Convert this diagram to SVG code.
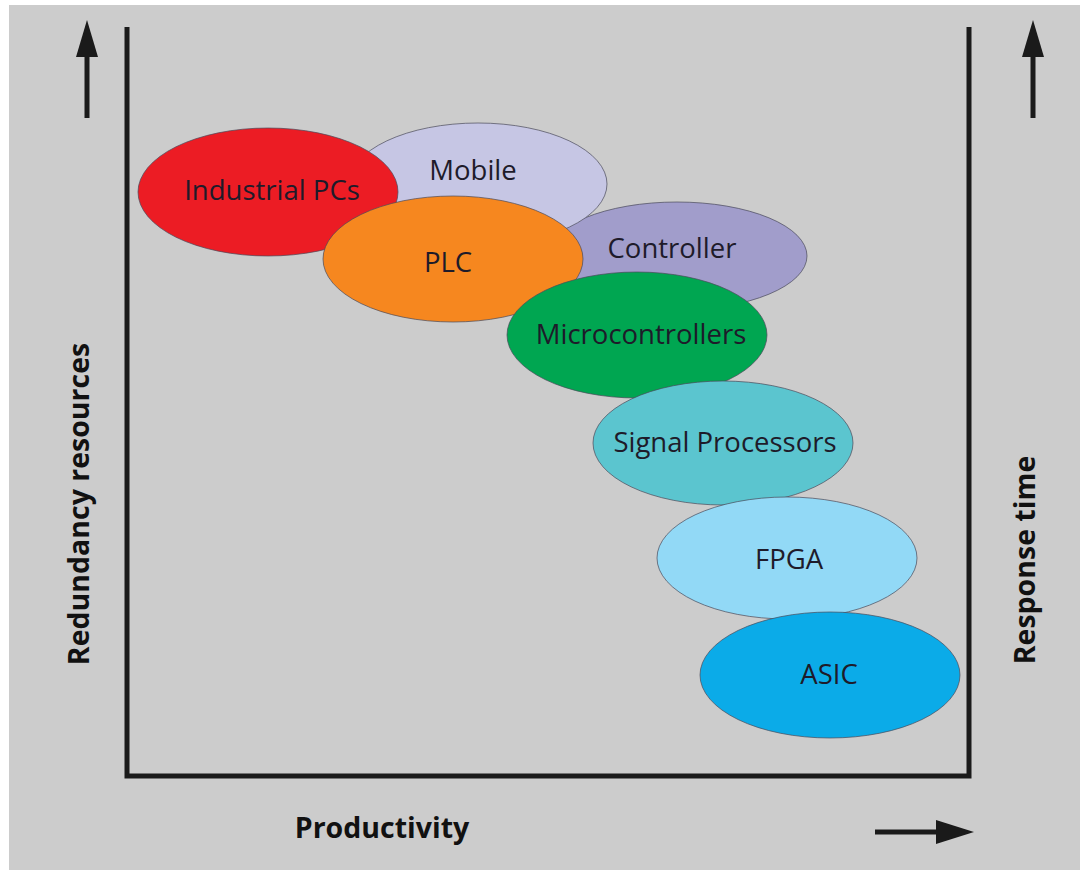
<svg xmlns="http://www.w3.org/2000/svg" width="1080" height="870" viewBox="0 0 1080 870">
<style>
.bg{fill:#cccccc}
.axis{fill:none;stroke:#1a1a1a;stroke-width:5;stroke-linejoin:miter}
.shaft{stroke:#1a1a1a;stroke-width:5}
.head{fill:#1a1a1a}
.node ellipse{stroke:#4a4a5a;stroke-opacity:0.7;stroke-width:1}
.lbl{font-family:"Open Sans","Liberation Sans",sans-serif;font-size:27.5px;fill:#1e1b2a;text-anchor:middle}
.ax{font-family:"Open Sans","Liberation Sans",sans-serif;font-size:28.5px;font-weight:bold;fill:#111111;text-anchor:middle}
</style>
<rect x="0" y="0" width="1080" height="870" fill="#ffffff"/>
<rect class="bg" x="9" y="5" width="1071" height="865"/>
<g id="connectors">
<path class="axis" d="M127,27 V776 H969 V27"/>
<line class="shaft" x1="87" y1="118" x2="87" y2="50"/>
<polygon class="head" points="87,20 76,57 98,57"/>
<line class="shaft" x1="1033" y1="118" x2="1033" y2="50"/>
<polygon class="head" points="1033,20 1022,57 1044,57"/>
<line class="shaft" x1="875" y1="832" x2="945" y2="832"/>
<polygon class="head" points="974,832 936,820 936,844"/>
</g>
<g id="controller" class="node"><ellipse cx="677" cy="256" rx="130" ry="54" fill="#a19dcb"/><text class="lbl" x="672" y="258">Controller</text></g>
<g id="mobile" class="node"><ellipse cx="478" cy="184" rx="129" ry="61" fill="#c6c6e4"/><text class="lbl" x="473" y="180">Mobile</text></g>
<g id="industrial-pcs" class="node"><ellipse cx="268" cy="192" rx="130" ry="64" fill="#ec1c24"/><text class="lbl" x="272" y="200">Industrial PCs</text></g>
<g id="plc" class="node"><ellipse cx="453" cy="259" rx="130" ry="63" fill="#f6871f"/><text class="lbl" x="448" y="272">PLC</text></g>
<g id="microcontrollers" class="node"><ellipse cx="637" cy="335" rx="130" ry="63" fill="#00a651"/><text class="lbl" x="641" y="344">Microcontrollers</text></g>
<g id="signal-processors" class="node"><ellipse cx="723" cy="443" rx="130" ry="62" fill="#5bc5cf"/><text class="lbl" x="725" y="452">Signal Processors</text></g>
<g id="fpga" class="node"><ellipse cx="787" cy="558" rx="130" ry="61" fill="#92d9f6"/><text class="lbl" x="789" y="569">FPGA</text></g>
<g id="asic" class="node"><ellipse cx="830" cy="675" rx="130" ry="63" fill="#0babe8"/><text class="lbl" x="829" y="684">ASIC</text></g>
<text class="ax" transform="translate(89,504) rotate(-90)">Redundancy resources</text>
<text class="ax" transform="translate(1035,560) rotate(-90)">Response time</text>
<text class="ax" x="382" y="838">Productivity</text>
</svg>
